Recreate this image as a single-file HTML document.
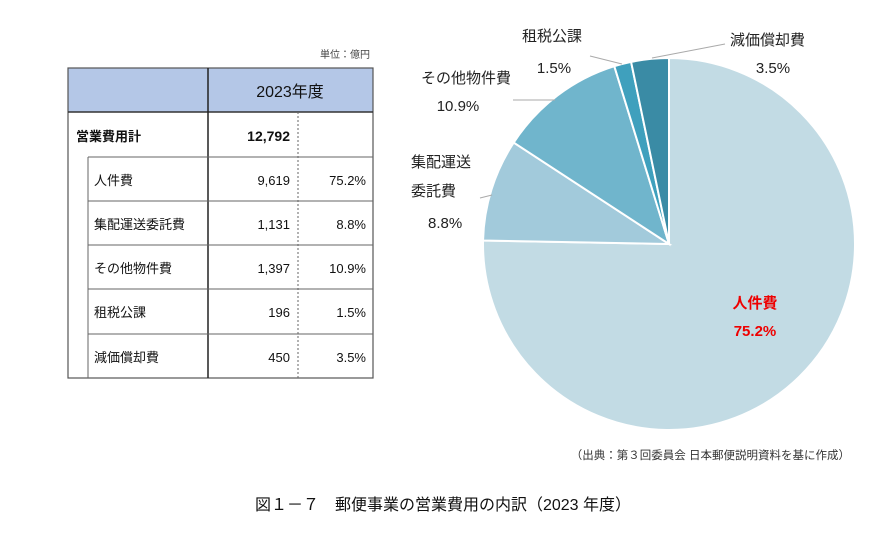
<!DOCTYPE html>
<html><head><meta charset="utf-8"><style>
body{margin:0;background:#fff;width:886px;height:534px;overflow:hidden}
text{font-family:"Liberation Sans","Noto Sans CJK JP",sans-serif}
</style></head><body>
<svg width="886" height="534" viewBox="0 0 886 534">
<text x="370" y="58" font-size="10" text-anchor="end" fill="#444">単位：億円</text>
<rect x="68" y="68" width="305" height="44" fill="#b4c7e7"/>
<rect x="68" y="68" width="305" height="310" fill="none" stroke="#555" stroke-width="1.2"/>
<line x1="68" y1="112" x2="373" y2="112" stroke="#333" stroke-width="1.5"/>
<line x1="208" y1="68" x2="208" y2="378" stroke="#222" stroke-width="1.5"/>
<line x1="298" y1="112" x2="298" y2="378" stroke="#666" stroke-dasharray="2,2"/>
<g stroke="#666" stroke-width="1">
<line x1="88" y1="157" x2="373" y2="157"/>
<line x1="88" y1="201" x2="373" y2="201"/>
<line x1="88" y1="245" x2="373" y2="245"/>
<line x1="88" y1="289" x2="373" y2="289"/>
<line x1="88" y1="334" x2="373" y2="334"/>
<line x1="88" y1="157" x2="88" y2="378"/>
</g>
<text x="290" y="97" font-size="16" text-anchor="middle" fill="#111">2023年度</text>
<g font-size="13" fill="#111">
<text x="76" y="141" font-weight="bold">営業費用計</text>
<text x="290" y="141" font-weight="bold" text-anchor="end" font-size="14">12,792</text>
<text x="94" y="185">人件費</text><text x="290" y="185" text-anchor="end">9,619</text><text x="366" y="185" text-anchor="end">75.2%</text>
<text x="94" y="229">集配運送委託費</text><text x="290" y="229" text-anchor="end">1,131</text><text x="366" y="229" text-anchor="end">8.8%</text>
<text x="94" y="273">その他物件費</text><text x="290" y="273" text-anchor="end">1,397</text><text x="366" y="273" text-anchor="end">10.9%</text>
<text x="94" y="317">租税公課</text><text x="290" y="317" text-anchor="end">196</text><text x="366" y="317" text-anchor="end">1.5%</text>
<text x="94" y="362">減価償却費</text><text x="290" y="362" text-anchor="end">450</text><text x="366" y="362" text-anchor="end">3.5%</text>
</g>
<g stroke="#fff" stroke-width="2">
<path d="M669,244 L669,58 A186,186 0 1 1 483.04,240.5 Z" fill="#c2dbe4"/>
<path d="M669,244 L483.04,240.5 A186,186 0 0 1 513.7,142.6 Z" fill="#a2cadb"/>
<path d="M669,244 L513.7,142.6 A186,186 0 0 1 614.3,66.2 Z" fill="#70b5cc"/>
<path d="M669,244 L614.3,66.2 A186,186 0 0 1 631.1,61.9 Z" fill="#3fa0bd"/>
<path d="M669,244 L631.1,61.9 A186,186 0 0 1 669,58 Z" fill="#3a8ba5"/>
</g>
<g stroke="#aaa" fill="none">
<polyline points="652,58 725,44"/>
<polyline points="622,64 590,56"/>
<polyline points="555,100 513,100"/>
<polyline points="492,195 480,198"/>
</g>
<g font-size="15" fill="#222">
<text x="730" y="45">減価償却費</text><text x="773" y="73" text-anchor="middle">3.5%</text>
<text x="522" y="41">租税公課</text><text x="554" y="73" text-anchor="middle">1.5%</text>
<text x="421" y="83">その他物件費</text><text x="458" y="111" text-anchor="middle">10.9%</text>
<text x="411" y="167">集配運送</text><text x="411" y="196">委託費</text><text x="428" y="228">8.8%</text>
</g>
<text x="755" y="308" font-size="15" font-weight="bold" fill="#e00" text-anchor="middle">人件費</text>
<text x="755" y="336" font-size="15" font-weight="bold" fill="#e00" text-anchor="middle">75.2%</text>
<text x="850" y="459" font-size="11.5" fill="#333" text-anchor="end">（出典：第３回委員会 日本郵便説明資料を基に作成）</text>
<text x="443" y="510" font-size="16" fill="#111" text-anchor="middle">図１－７　郵便事業の営業費用の内訳（2023 年度）</text>
</svg>
</body></html>
